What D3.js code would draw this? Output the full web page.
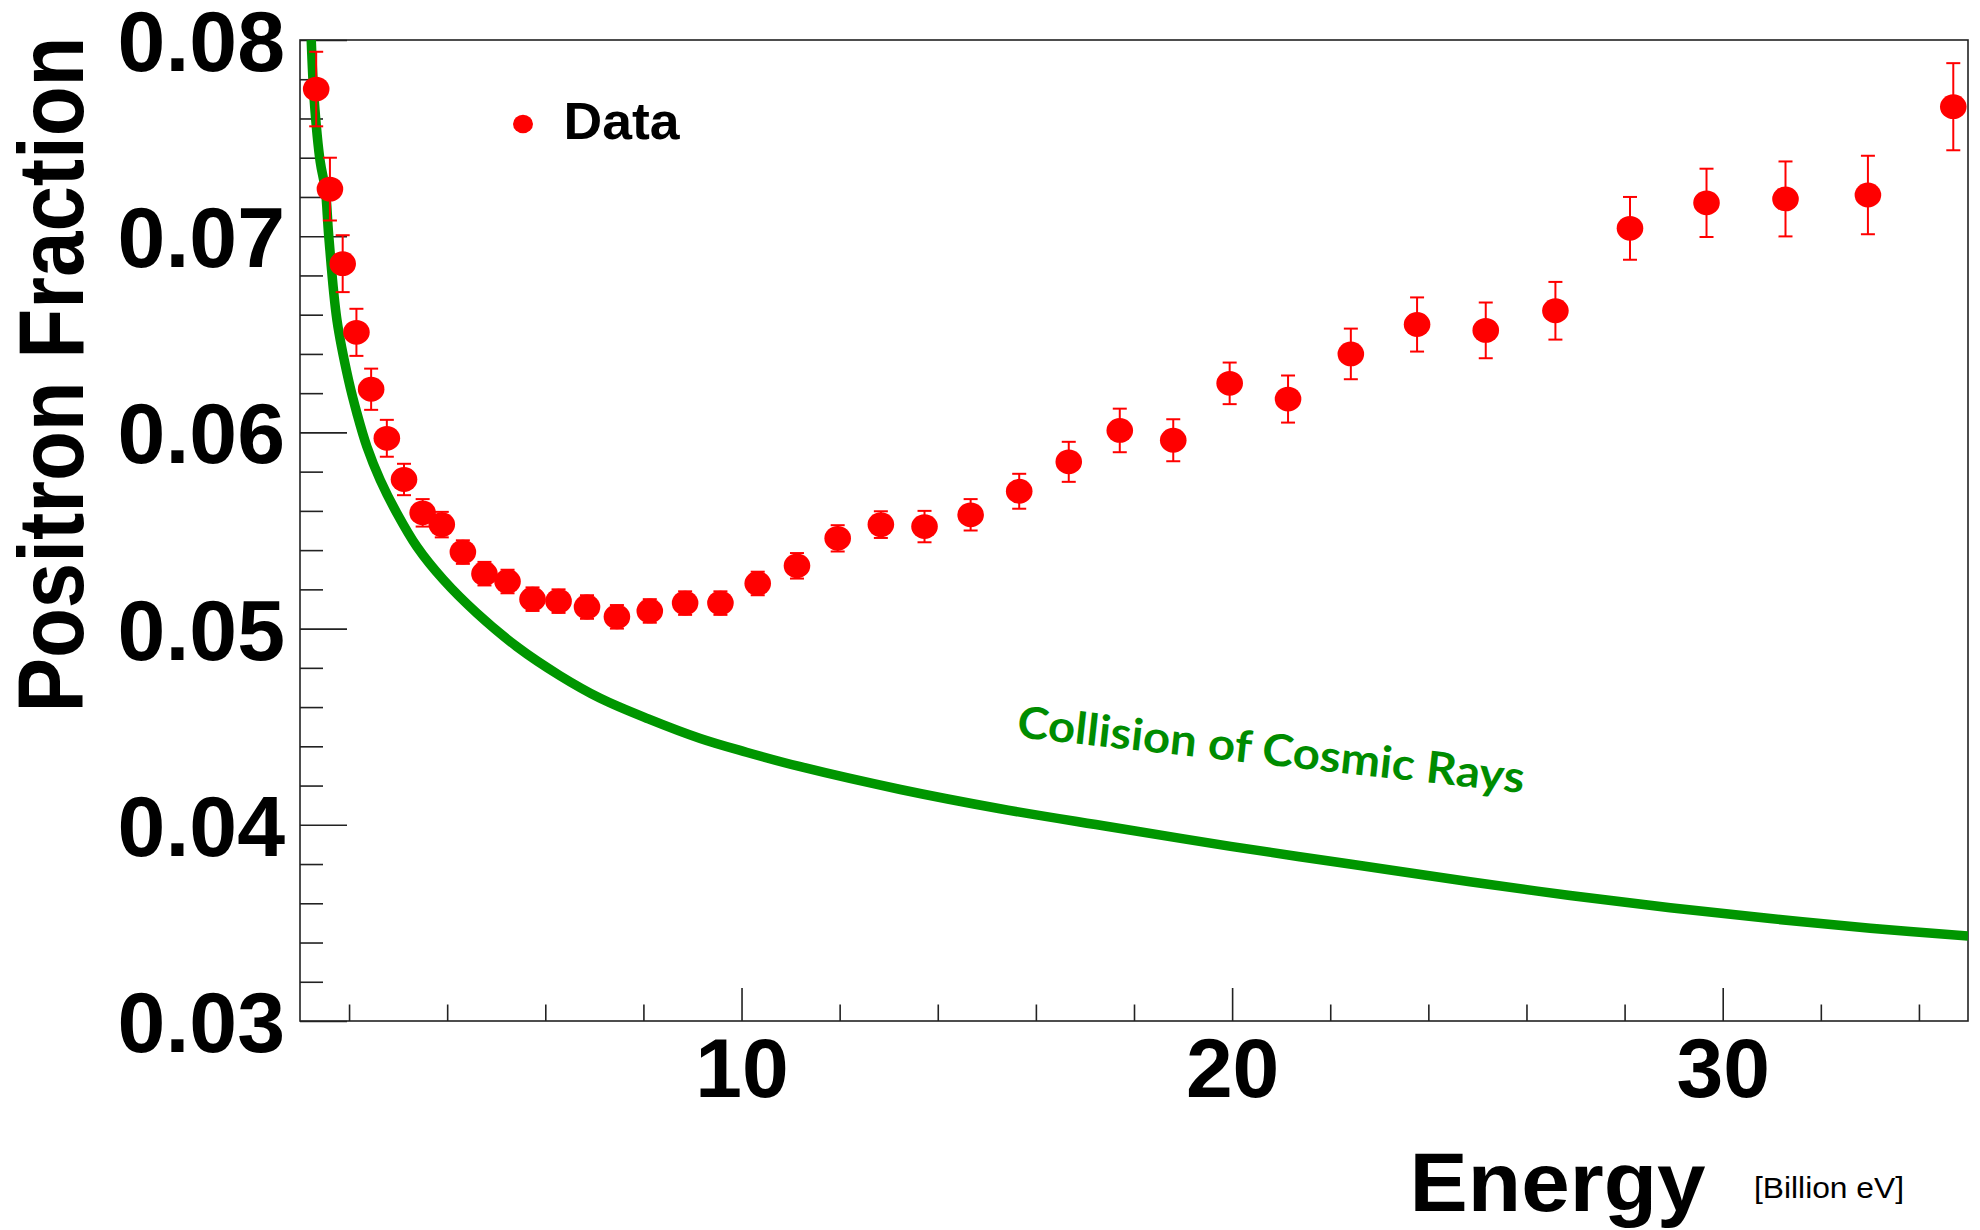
<!DOCTYPE html>
<html>
<head>
<meta charset="utf-8">
<script src="https://cdn.jsdelivr.net/npm/d3@7"></script>
<style>
  html, body { margin: 0; padding: 0; background: #fff; }
  svg { display: block; }
</style>
</head>
<body>
<svg id="chart" width="1980" height="1230"></svg>
<script>
// ---- Data ----
const energy = [1.33, 1.61, 1.87, 2.15, 2.45, 2.77, 3.12, 3.50, 3.89, 4.32,
  4.76, 5.23, 5.74, 6.27, 6.85, 7.46, 8.13, 8.85, 9.57, 10.33,
  11.13, 11.96, 12.84, 13.73, 14.67, 15.66, 16.67, 17.71, 18.80, 19.95,
  21.14, 22.42, 23.77, 25.17, 26.59, 28.11, 29.67, 31.28, 32.96, 34.70];
const fraction = [0.0775, 0.0724, 0.0686, 0.0651, 0.0622, 0.0597, 0.0576, 0.0559, 0.0553, 0.0539,
  0.0528, 0.0524, 0.0515, 0.0514, 0.0511, 0.0506, 0.0509, 0.0513, 0.0513, 0.0523,
  0.0532, 0.0546, 0.0553, 0.0552, 0.0558, 0.0570, 0.0585, 0.0601, 0.0596, 0.0625,
  0.0617, 0.0640, 0.0655, 0.0652, 0.0662, 0.0704, 0.0717, 0.0719, 0.0721, 0.0766];
const fractionErr = [0.0019, 0.0016, 0.00145, 0.0012, 0.00105, 0.00094, 0.0008, 0.0007, 0.00065, 0.0006,
  0.0006, 0.0006, 0.0006, 0.0006, 0.0006, 0.0006, 0.0006, 0.0006, 0.0006, 0.0006,
  0.00065, 0.00067, 0.00068, 0.0008, 0.0008, 0.00089, 0.00102, 0.00111, 0.00107, 0.00106,
  0.0012, 0.00129, 0.00138, 0.00142, 0.00147, 0.0016, 0.00174, 0.00191, 0.0020, 0.00222];

// Model curve "Collision of Cosmic Rays"
const modelEnergy = [1.229, 1.29, 1.413, 1.515, 1.586, 1.753, 1.989, 2.161, 2.364, 2.636,
  2.976, 3.384, 3.926, 4.607, 5.42, 6.30, 7.12, 8.10, 9.16, 10.10,
  11.20, 13.24, 15.27, 17.50, 19.97, 22.40, 24.85, 26.89, 28.93, 30.97,
  33.01, 35.0];
const modelFraction = [0.0800, 0.07694, 0.07378, 0.07241, 0.07001, 0.06573, 0.06267, 0.06097, 0.05927, 0.05757,
  0.05588, 0.05417, 0.05248, 0.05078, 0.04908, 0.04760, 0.04645, 0.04540, 0.04440, 0.04370,
  0.04296, 0.04180, 0.04082, 0.03990, 0.03890, 0.03800, 0.03710, 0.03640, 0.03577, 0.03522,
  0.03473, 0.03433];

const yMajorTicks = [0.03, 0.04, 0.05, 0.06, 0.07, 0.08];
const yMinorTicks = [0.032, 0.034, 0.036, 0.038, 0.042, 0.044, 0.046, 0.048,
  0.052, 0.054, 0.056, 0.058, 0.062, 0.064, 0.066, 0.068, 0.072, 0.074, 0.076, 0.078];
const xMajorTicks = [10, 20, 30];
const xMinorTicks = [2, 4, 6, 8, 12, 14, 16, 18, 22, 24, 26, 28, 32, 34];

const yTitle = "Positron Fraction";
const xTitle = "Energy";
const xUnit = "[Billion eV]";
const legendLabel = "Data";
const modelLabel = "Collision of Cosmic Rays";

// ---- Layout ----
const frame = { left: 300, right: 1968, top: 40, bottom: 1021 };
const svg = d3.select("#chart");
const FONT = "'Liberation Sans', Arial, Helvetica, sans-serif";

svg.append("rect").attr("width", 1980).attr("height", 1230).attr("fill", "#fff");

const x = d3.scaleLinear().domain([1, 35]).range([frame.left, frame.right]);
const y = d3.scaleLinear().domain([0.03, 0.08]).range([frame.bottom, frame.top]);

svg.append("defs").append("clipPath").attr("id", "plotclip")
  .append("rect")
  .attr("x", frame.left).attr("y", frame.top)
  .attr("width", frame.right - frame.left).attr("height", frame.bottom - frame.top);

// ---- Axes ----
const yAxisMajor = d3.axisLeft(y).tickValues(yMajorTicks)
  .tickSizeInner(-47).tickSizeOuter(0).tickPadding(15)
  .tickFormat(d3.format(".2f"));
const yAxisMinor = d3.axisLeft(y).tickValues(yMinorTicks)
  .tickSizeInner(-23).tickSizeOuter(0).tickFormat("");
const xAxisMajor = d3.axisBottom(x).tickValues(xMajorTicks)
  .tickSizeInner(-33).tickSizeOuter(0).tickPadding(16)
  .tickFormat(d3.format("d"));
const xAxisMinor = d3.axisBottom(x).tickValues(xMinorTicks)
  .tickSizeInner(-16.5).tickSizeOuter(0).tickFormat("");

function styleAxis(g, size) {
  g.select(".domain").remove();
  g.selectAll(".tick line").attr("stroke", "#222").attr("stroke-width", 1.6);
  g.selectAll(".tick text")
    .attr("fill", "#000")
    .style("font-family", FONT)
    .style("font-weight", "bold")
    .style("font-size", (size || 84) + "px");
}

svg.append("g").attr("transform", `translate(${frame.left},0)`).call(yAxisMinor).call(styleAxis);
svg.append("g").attr("transform", `translate(${frame.left},0)`).call(yAxisMajor).call(styleAxis, 86)
  .selectAll(".tick text").attr("dy", "0.355em");
svg.append("g").attr("transform", `translate(0,${frame.bottom})`).call(xAxisMinor).call(styleAxis);
svg.append("g").attr("transform", `translate(0,${frame.bottom})`).call(xAxisMajor).call(styleAxis, 84);

// frame
svg.append("rect")
  .attr("x", frame.left).attr("y", frame.top)
  .attr("width", frame.right - frame.left).attr("height", frame.bottom - frame.top)
  .attr("fill", "none").attr("stroke", "#222").attr("stroke-width", 1.6);

// ---- Model curve ----
const modelPts = modelEnergy.map((e, i) => [e, modelFraction[i]]);
const line = d3.line()
  .x(d => x(d[0])).y(d => y(d[1]))
  .curve(d3.curveCatmullRom.alpha(0.5));
svg.append("path")
  .attr("clip-path", "url(#plotclip)")
  .attr("d", line(modelPts))
  .attr("fill", "none")
  .attr("stroke", "#009600")
  .attr("stroke-width", 9.5)
  .attr("stroke-linecap", "butt");

// ---- Data points with error bars ----
const pts = energy.map((e, i) => ({ e, v: fraction[i], err: fractionErr[i] }));
const eg = svg.append("g").attr("clip-path", "url(#plotclip)");
const capHalf = 7;
const bars = eg.selectAll("g.pt").data(pts).join("g").attr("class", "pt");
bars.append("line")
  .attr("x1", d => x(d.e)).attr("x2", d => x(d.e))
  .attr("y1", d => y(d.v + d.err)).attr("y2", d => y(d.v - d.err))
  .attr("stroke", "#ff0000").attr("stroke-width", 2);
bars.append("line")
  .attr("x1", d => x(d.e) - capHalf).attr("x2", d => x(d.e) + capHalf)
  .attr("y1", d => y(d.v + d.err)).attr("y2", d => y(d.v + d.err))
  .attr("stroke", "#ff0000").attr("stroke-width", 2);
bars.append("line")
  .attr("x1", d => x(d.e) - capHalf).attr("x2", d => x(d.e) + capHalf)
  .attr("y1", d => y(d.v - d.err)).attr("y2", d => y(d.v - d.err))
  .attr("stroke", "#ff0000").attr("stroke-width", 2);
bars.append("ellipse")
  .attr("cx", d => x(d.e)).attr("cy", d => y(d.v))
  .attr("rx", 13.3).attr("ry", 12.4)
  .attr("fill", "#ff0000");

// ---- Legend ----
svg.append("ellipse").attr("cx", 523).attr("cy", 124).attr("rx", 10).attr("ry", 9.2).attr("fill", "#ff0000");
svg.append("text").attr("x", 563.5).attr("y", 138.5)
  .attr("textLength", 116).attr("lengthAdjust", "spacingAndGlyphs")
  .style("font-family", FONT).style("font-weight", "bold").style("font-size", "52px")
  .attr("fill", "#000").text(legendLabel);

// ---- Model label ----
svg.append("text")
  .attr("transform", "translate(1016,737) rotate(6.3)")
  .attr("x", 0).attr("y", 0)
  .attr("textLength", 510).attr("lengthAdjust", "spacingAndGlyphs")
  .style("font-family", "Lato, 'Open Sans', sans-serif").style("font-weight", "bold").style("font-size", "44px")
  .attr("fill", "#008c00").text(modelLabel);

// ---- Axis titles ----
svg.append("text")
  .attr("transform", "translate(83,374.5) rotate(-90)")
  .attr("text-anchor", "middle")
  .attr("textLength", 676).attr("lengthAdjust", "spacingAndGlyphs")
  .style("font-family", FONT).style("font-weight", "bold").style("font-size", "92px")
  .attr("fill", "#000").text(yTitle);

svg.append("text")
  .attr("x", 1409.6).attr("y", 1211)
  .attr("textLength", 296).attr("lengthAdjust", "spacingAndGlyphs")
  .style("font-family", FONT).style("font-weight", "bold").style("font-size", "84px")
  .attr("fill", "#000").text(xTitle);

svg.append("text")
  .attr("x", 1754).attr("y", 1198)
  .attr("textLength", 150).attr("lengthAdjust", "spacingAndGlyphs")
  .style("font-family", FONT).style("font-size", "30px")
  .attr("fill", "#000").text(xUnit);
</script>
</body>
</html>
